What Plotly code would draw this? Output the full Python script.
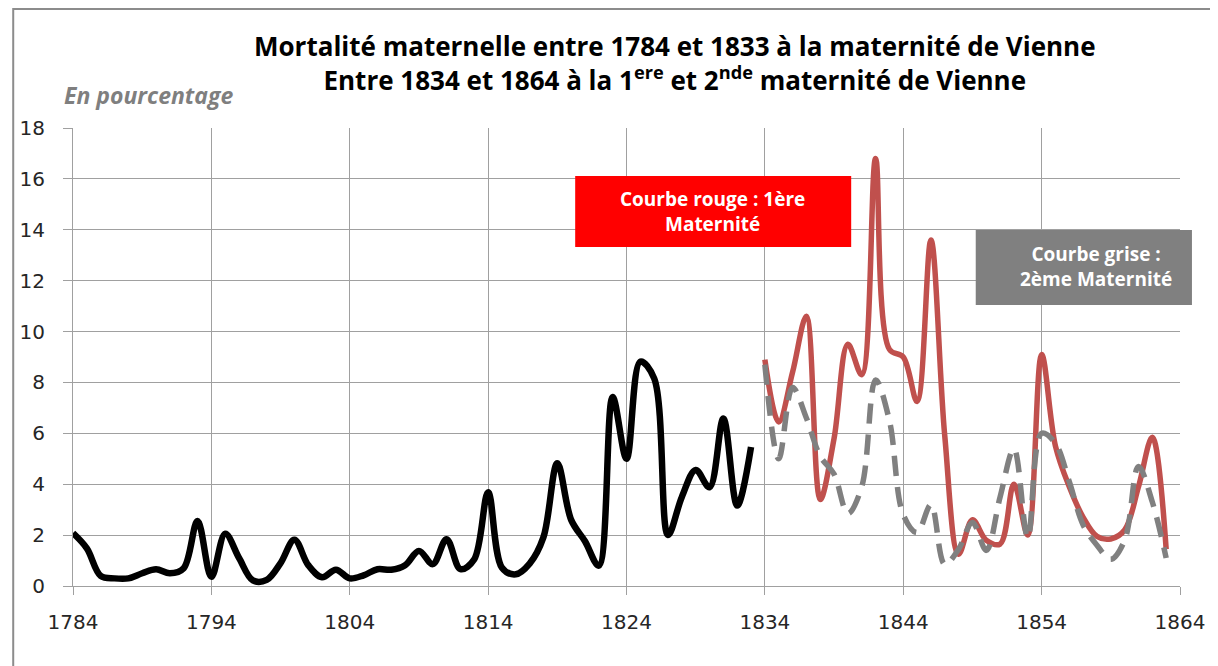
import plotly.graph_objects as go

# ---- data ----
years_black = list(range(1784, 1834))
black_vals = [2.08, 1.48, 0.40, 0.30, 0.30, 0.50, 0.66, 0.50, 0.70, 2.55,
              0.36, 2.05, 1.10, 0.22, 0.24, 0.90, 1.82, 0.82, 0.34, 0.64,
              0.30, 0.42, 0.66, 0.64, 0.82, 1.38, 0.86, 1.84, 0.66, 1.05,
              3.68, 0.72, 0.46, 0.88, 1.92, 4.82, 2.60, 1.76, 0.80, 7.43,
              5.00, 8.82, 8.16, 2.00, 3.50, 4.56, 3.88, 6.58, 3.16, 5.46]

years_clin = list(range(1834, 1864))
red_vals = [8.90, 6.45, 8.40, 10.60, 3.40, 5.80, 9.50, 8.30, 16.80, 9.30,
            9.00, 7.25, 13.60, 5.90, 1.25, 2.60, 1.80, 1.65, 4.00, 2.00,
            9.10, 5.50, 3.90, 2.70, 1.95, 1.85, 2.20, 3.90, 5.85, 1.45]
gray_vals = [8.70, 5.00, 7.80, 6.60, 5.10, 4.40, 2.85, 3.90, 8.10, 6.50,
             2.80, 2.10, 3.20, 0.85, 1.45, 2.50, 1.40, 3.50, 5.40, 1.90,
             6.00, 5.60, 4.10, 2.40, 1.60, 1.05, 1.80, 4.70, 3.30, 1.10]

x_ticks = list(range(1784, 1865, 10))
y_ticks = list(range(0, 19, 2))

title_line1 = "Mortalité maternelle entre 1784 et 1833 à la maternité de Vienne"
title_line2 = "Entre 1834 et 1864 à la 1<sup>ere</sup> et 2<sup>nde</sup> maternité de Vienne"
unit_label = "En pourcentage"
red_label = "Courbe rouge : 1ère<br>Maternité"
gray_label = "Courbe grise :<br>2ème Maternité"

# ---- layout geometry (screen pixels; page body adds an 8px offset) ----
W, H = 1218, 666
OFF = 8
L, R, T, B = 69, 1180, 128, 586
pw, ph = R - L, B - T


def px(xp):
    return (xp - L) / pw


def py(yp):
    return (B - yp) / ph


fig = go.Figure()
fig.add_trace(go.Scatter(x=years_black, y=black_vals, mode="lines",
                         line=dict(color="#000000", width=6.5, shape="spline", smoothing=1.0),
                         showlegend=False, hoverinfo="x+y"))
fig.add_trace(go.Scatter(x=years_clin, y=red_vals, mode="lines",
                         line=dict(color="#C0504D", width=5.5, shape="spline", smoothing=1.0),
                         showlegend=False, hoverinfo="x+y"))
fig.add_trace(go.Scatter(x=years_clin, y=gray_vals, mode="lines",
                         line=dict(color="#808080", width=5.5, shape="spline", smoothing=1.0,
                                   dash="20px,11px"),
                         showlegend=False, hoverinfo="x+y"))

grid = "#A0A0A0"
tickfont = dict(family="DejaVu Sans", size=20, color="#262626")

fig.update_layout(
    width=W - OFF, height=H - OFF,
    margin=dict(l=L - OFF, r=W - R, t=T - OFF, b=H - B, pad=0),
    paper_bgcolor="white", plot_bgcolor="white",
    xaxis=dict(range=[1784, 1864], tickvals=x_ticks, showgrid=True, gridcolor=grid,
               gridwidth=1, zeroline=False, showline=True, linecolor=grid,
               ticks="outside", ticklen=8, tickcolor=grid, tickfont=tickfont,
               ticklabelstandoff=10, fixedrange=True),
    yaxis=dict(range=[0, 18], tickvals=y_ticks, showgrid=True, gridcolor=grid,
               gridwidth=1, zeroline=False, showline=True, linecolor=grid,
               ticks="outside", ticklen=9, tickcolor=grid, tickfont=tickfont,
               ticklabelstandoff=14, fixedrange=True),
    showlegend=False,
)

shapes = [
    # outer chart frame
    dict(type="rect", xref="paper", yref="paper",
         x0=px(9), x1=px(1260), y0=py(700), y1=py(9),
         line=dict(color="#8C8C8C", width=2), fillcolor="rgba(0,0,0,0)", layer="below"),
    dict(type="rect", xref="paper", yref="paper",
         x0=px(573), x1=px(850), y0=py(247), y1=py(176),
         line=dict(width=0), fillcolor="#FF0000", layer="above"),
    dict(type="rect", xref="paper", yref="paper",
         x0=px(975), x1=px(1192), y0=py(305), y1=py(230),
         line=dict(width=0), fillcolor="#808080", layer="above"),
]

title_font = dict(family="Open Sans", size=26, color="#000000")
box_font = dict(family="Open Sans", size=19, color="white")
annotations = [
    dict(text="<b>" + title_line1 + "<br>" + title_line2 + "</b>", x=px(673), y=py(63),
         xref="paper", yref="paper", xanchor="center", yanchor="middle", align="center",
         showarrow=False, font=title_font),
    dict(text="<b><i>" + unit_label + "</i></b>", x=px(58), y=py(95), xref="paper", yref="paper",
         xanchor="left", yanchor="middle", showarrow=False,
         font=dict(family="Open Sans", size=23, color="#7F7F7F")),
    dict(text="<b>" + red_label + "</b>", x=px(711), y=py(211), xref="paper", yref="paper",
         xanchor="center", yanchor="middle", showarrow=False, font=box_font),
    dict(text="<b>" + gray_label + "</b>", x=px(1096), y=py(266), xref="paper", yref="paper",
         xanchor="center", yanchor="middle", showarrow=False, font=box_font),
]
fig.update_layout(shapes=shapes, annotations=annotations)

fig.write_html("out.html")
